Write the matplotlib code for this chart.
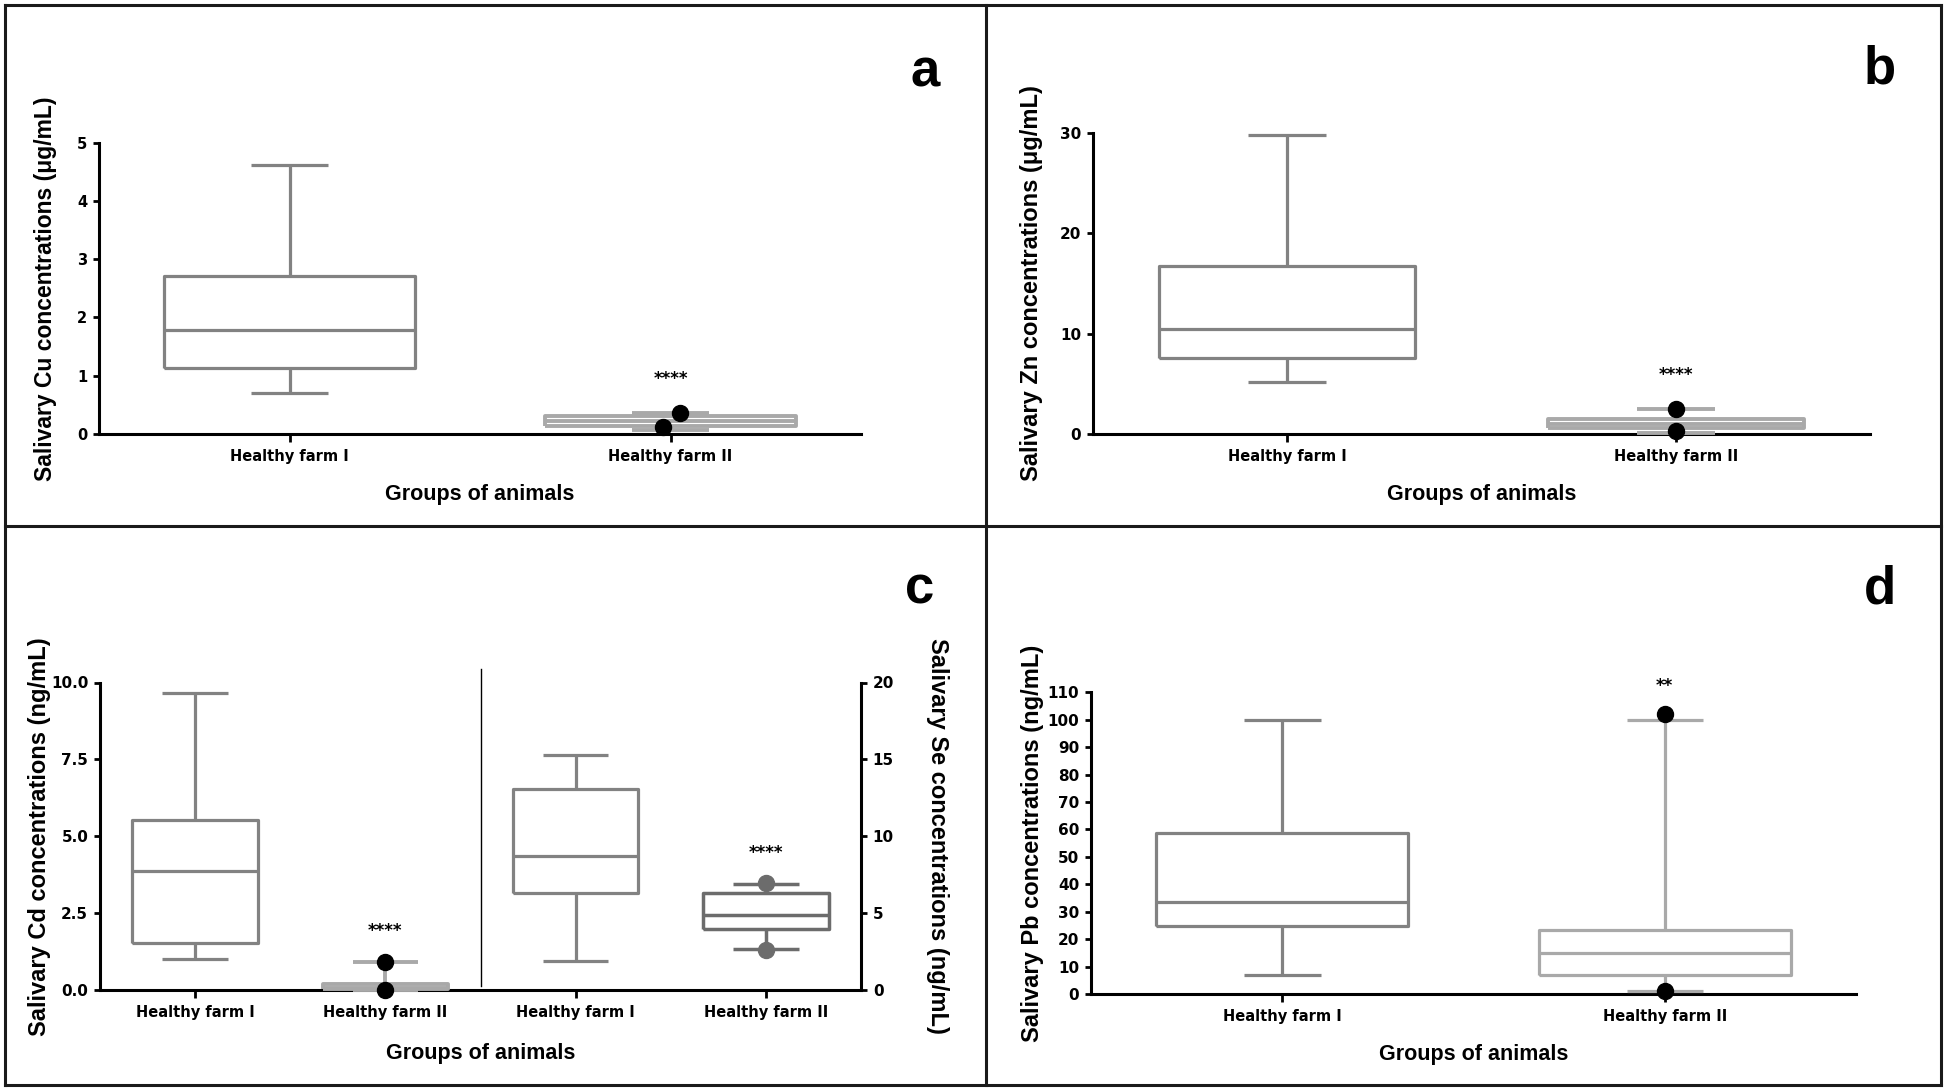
import matplotlib
matplotlib.use('Agg')
import matplotlib.pyplot as plt
from matplotlib.lines import Line2D

W, H, DPI = 1946, 1092, 100

plt.rcParams['font.family'] = ['DejaVu Sans']
plt.rcParams['font.weight'] = 'bold'

categories = ['Healthy farm I', 'Healthy farm II']

# five-number summaries: [lower whisker, Q1, median, Q3, upper whisker]
cu_farm1 = [0.71, 1.13, 1.79, 2.71, 4.61]
cu_farm2 = [0.07, 0.14, 0.22, 0.31, 0.36]
cu_points = [0.12, 0.36]

zn_farm1 = [5.2, 7.6, 10.5, 16.7, 29.8]
zn_farm2 = [0.1, 0.55, 1.0, 1.5, 2.45]
zn_points = [0.3, 2.5]

cd_farm1 = [1.0, 1.52, 3.87, 5.53, 9.65]
cd_farm2 = [0.0, 0.02, 0.08, 0.18, 0.91]
cd_points = [0.0, 0.91]

se_farm1 = [1.88, 6.33, 8.72, 13.1, 15.3]
se_farm2 = [2.65, 3.94, 4.88, 6.28, 6.92]
se_points = [2.6, 6.95]

pb_farm1 = [6.9, 24.7, 33.5, 58.7, 99.9]
pb_farm2 = [1.0, 6.9, 14.8, 23.4, 100.0]
pb_points = [1.0, 102.0]

sig_a, sig_a_y = '****', 0.95
sig_b, sig_b_y = '****', 5.9
sig_cd, sig_cd_y = '****', 1.93
sig_se, sig_se_y = '****', 8.9
sig_d, sig_d_y = '**', 112.4

C1 = '#828282'
C2 = '#a9a9a9'
C3 = '#6c6c6c'
LABEL_FONT = ['Liberation Sans', 'DejaVu Sans']

fig = plt.figure(figsize=(W / DPI, H / DPI), dpi=DPI)


def rect(l, r, t, b):
    return [l / W, 1 - b / H, (r - l) / W, (b - t) / H]


def draw_box(ax, summary, pos, color, lw, width=0.66, capw=0.2):
    stats = [dict(whislo=summary[0], q1=summary[1], med=summary[2],
                  q3=summary[3], whishi=summary[4], fliers=[])]
    props = dict(color=color, linewidth=lw, solid_capstyle='butt')
    arts = ax.bxp(stats, positions=[pos], widths=width, capwidths=capw,
                  showfliers=False, manage_ticks=False,
                  boxprops=props, whiskerprops=props, capprops=props,
                  medianprops=props)
    for k, lst in arts.items():
        for a in lst:
            a.set_clip_on(False)
            a.set_zorder(3)


def style(ax, ylim, yticks, yticklabels=None, ysize=11):
    ax.set_ylim(*ylim)
    ax.set_yticks(yticks)
    if yticklabels is not None:
        ax.set_yticklabels(yticklabels)
    for s in ['top', 'right']:
        ax.spines[s].set_visible(False)
    for s in ['left', 'bottom']:
        ax.spines[s].set_linewidth(2.2)
        ax.spines[s].set_zorder(2)
    ax.tick_params(axis='y', direction='out', length=4.5, width=2.0,
                   pad=4, labelsize=ysize)
    ax.tick_params(axis='x', direction='out', length=6, width=2.0,
                   pad=5, labelsize=10.5)


def points(ax, pos, vals, color='black'):
    ax.plot([pos] * len(vals), vals, 'o', color=color, ms=11.5,
            clip_on=False, zorder=5)


def sig(ax, pos, y, s):
    ax.text(pos, y, s, ha='center', va='center', fontsize=12,
            fontweight='bold', clip_on=False)


def ylab(ax, text, x, size=17, rot=90):
    ax.set_ylabel(text, family=LABEL_FONT, fontsize=size, fontweight='bold',
                  va='center', rotation=rot)
    ax.yaxis.set_label_coords(x, 0.5)


def xlab(ax, y):
    ax.set_xlabel('Groups of animals', family=LABEL_FONT, fontsize=15.5,
                  fontweight='bold', va='center')
    ax.xaxis.set_label_coords(0.5, y)


# ---- panel a ----
axa = fig.add_axes(rect(99, 861, 142.6, 434))
draw_box(axa, cu_farm1, 0, C1, 2.3)
draw_box(axa, cu_farm2, 1, C2, 2.8)
axa.plot([1 - 0.02, 1 + 0.025], cu_points, 'o', color='black', ms=11.5,
         clip_on=False, zorder=5)
sig(axa, 1, sig_a_y, sig_a)
axa.set_xlim(-0.5, 1.5)
axa.set_xticks([0, 1])
axa.set_xticklabels(categories)
style(axa, (0, 5), [0, 1, 2, 3, 4, 5], ysize=10.5)
ylab(axa, 'Salivary Cu concentrations (\u03bcg/mL)', -0.070, size=16.5)
xlab(axa, -0.206)

# ---- panel b ----
axb = fig.add_axes(rect(1093, 1870, 132.8, 434))
draw_box(axb, zn_farm1, 0, C1, 2.3)
draw_box(axb, zn_farm2, 1, C2, 2.8)
points(axb, 1, zn_points)
sig(axb, 1, sig_b_y, sig_b)
axb.set_xlim(-0.5, 1.5)
axb.set_xticks([0, 1])
axb.set_xticklabels(categories)
style(axb, (0, 30), [0, 10, 20, 30])
ylab(axb, 'Salivary Zn concentrations (\u03bcg/mL)', -0.079)
xlab(axb, -0.2025)

# ---- panel c ----
axc = fig.add_axes(rect(100, 861, 682.5, 990))
axc2 = axc.twinx()
draw_box(axc, cd_farm1, 0, C1, 2.3, capw=0.345)
draw_box(axc, cd_farm2, 1, C2, 2.8, capw=0.345)
points(axc, 1, cd_points)
sig(axc, 1, sig_cd_y, sig_cd)
draw_box(axc2, se_farm1, 2, C1, 2.3, capw=0.345)
draw_box(axc2, se_farm2, 3, C3, 2.5, capw=0.345)
points(axc2, 3, se_points, color=C3)
sig(axc2, 3, sig_se_y, sig_se)
axc.set_xlim(-0.5, 3.5)
axc.set_xticks([0, 1, 2, 3])
axc.set_xticklabels(categories * 2)
style(axc, (0, 10), [0, 2.5, 5, 7.5, 10],
      ['0.0', '2.5', '5.0', '7.5', '10.0'])
axc2.set_ylim(0, 20)
axc2.set_yticks([0, 5, 10, 15, 20])
for s in ['top', 'left', 'bottom']:
    axc2.spines[s].set_visible(False)
axc2.spines['right'].set_linewidth(2.2)
axc2.tick_params(axis='y', direction='out', length=4.5, width=2.0, pad=4,
                 labelsize=11)
axc.plot([1.5, 1.5], [0.12, 10.45], color='black', lw=1.0, clip_on=False,
         zorder=1)
ylab(axc, 'Salivary Cd concentrations (ng/mL)', -0.080)
ylab(axc2, 'Salivary Se concentrations (ng/mL)', 1.100, rot=-90)
xlab(axc, -0.205)

# ---- panel d ----
axd = fig.add_axes(rect(1091, 1856, 692.4, 994))
draw_box(axd, pb_farm1, 0, C1, 2.3)
draw_box(axd, pb_farm2, 1, C2, 2.3)
points(axd, 1, pb_points)
sig(axd, 1, sig_d_y, sig_d)
axd.set_xlim(-0.5, 1.5)
axd.set_xticks([0, 1])
axd.set_xticklabels(categories)
style(axd, (0, 110), list(range(0, 111, 10)))
ylab(axd, 'Salivary Pb concentrations (ng/mL)', -0.077)
xlab(axd, -0.202)

# ---- panel letters ----
for letter, x, y in [('a', 925, 87), ('b', 1880, 84), ('c', 920, 604),
                     ('d', 1880, 603)]:
    fig.text(x / W, 1 - y / H, letter, family=LABEL_FONT, fontsize=38,
             fontweight='bold', ha='center', va='baseline')

# ---- frame lines ----
def fline(x0, y0, x1, y1):
    fig.add_artist(Line2D([x0 / W, x1 / W], [1 - y0 / H, 1 - y1 / H],
                          transform=fig.transFigure, color='#1a1a1a',
                          lw=2.2, solid_capstyle='projecting'))

fline(4.5, 4.5, 1940.5, 4.5)
fline(4.5, 1084.5, 1940.5, 1084.5)
fline(4.5, 4.5, 4.5, 1084.5)
fline(1940.5, 4.5, 1940.5, 1084.5)
fline(985.5, 4.5, 985.5, 1084.5)
fline(4.5, 525.5, 1940.5, 525.5)

fig.savefig('out.png', dpi=DPI)
